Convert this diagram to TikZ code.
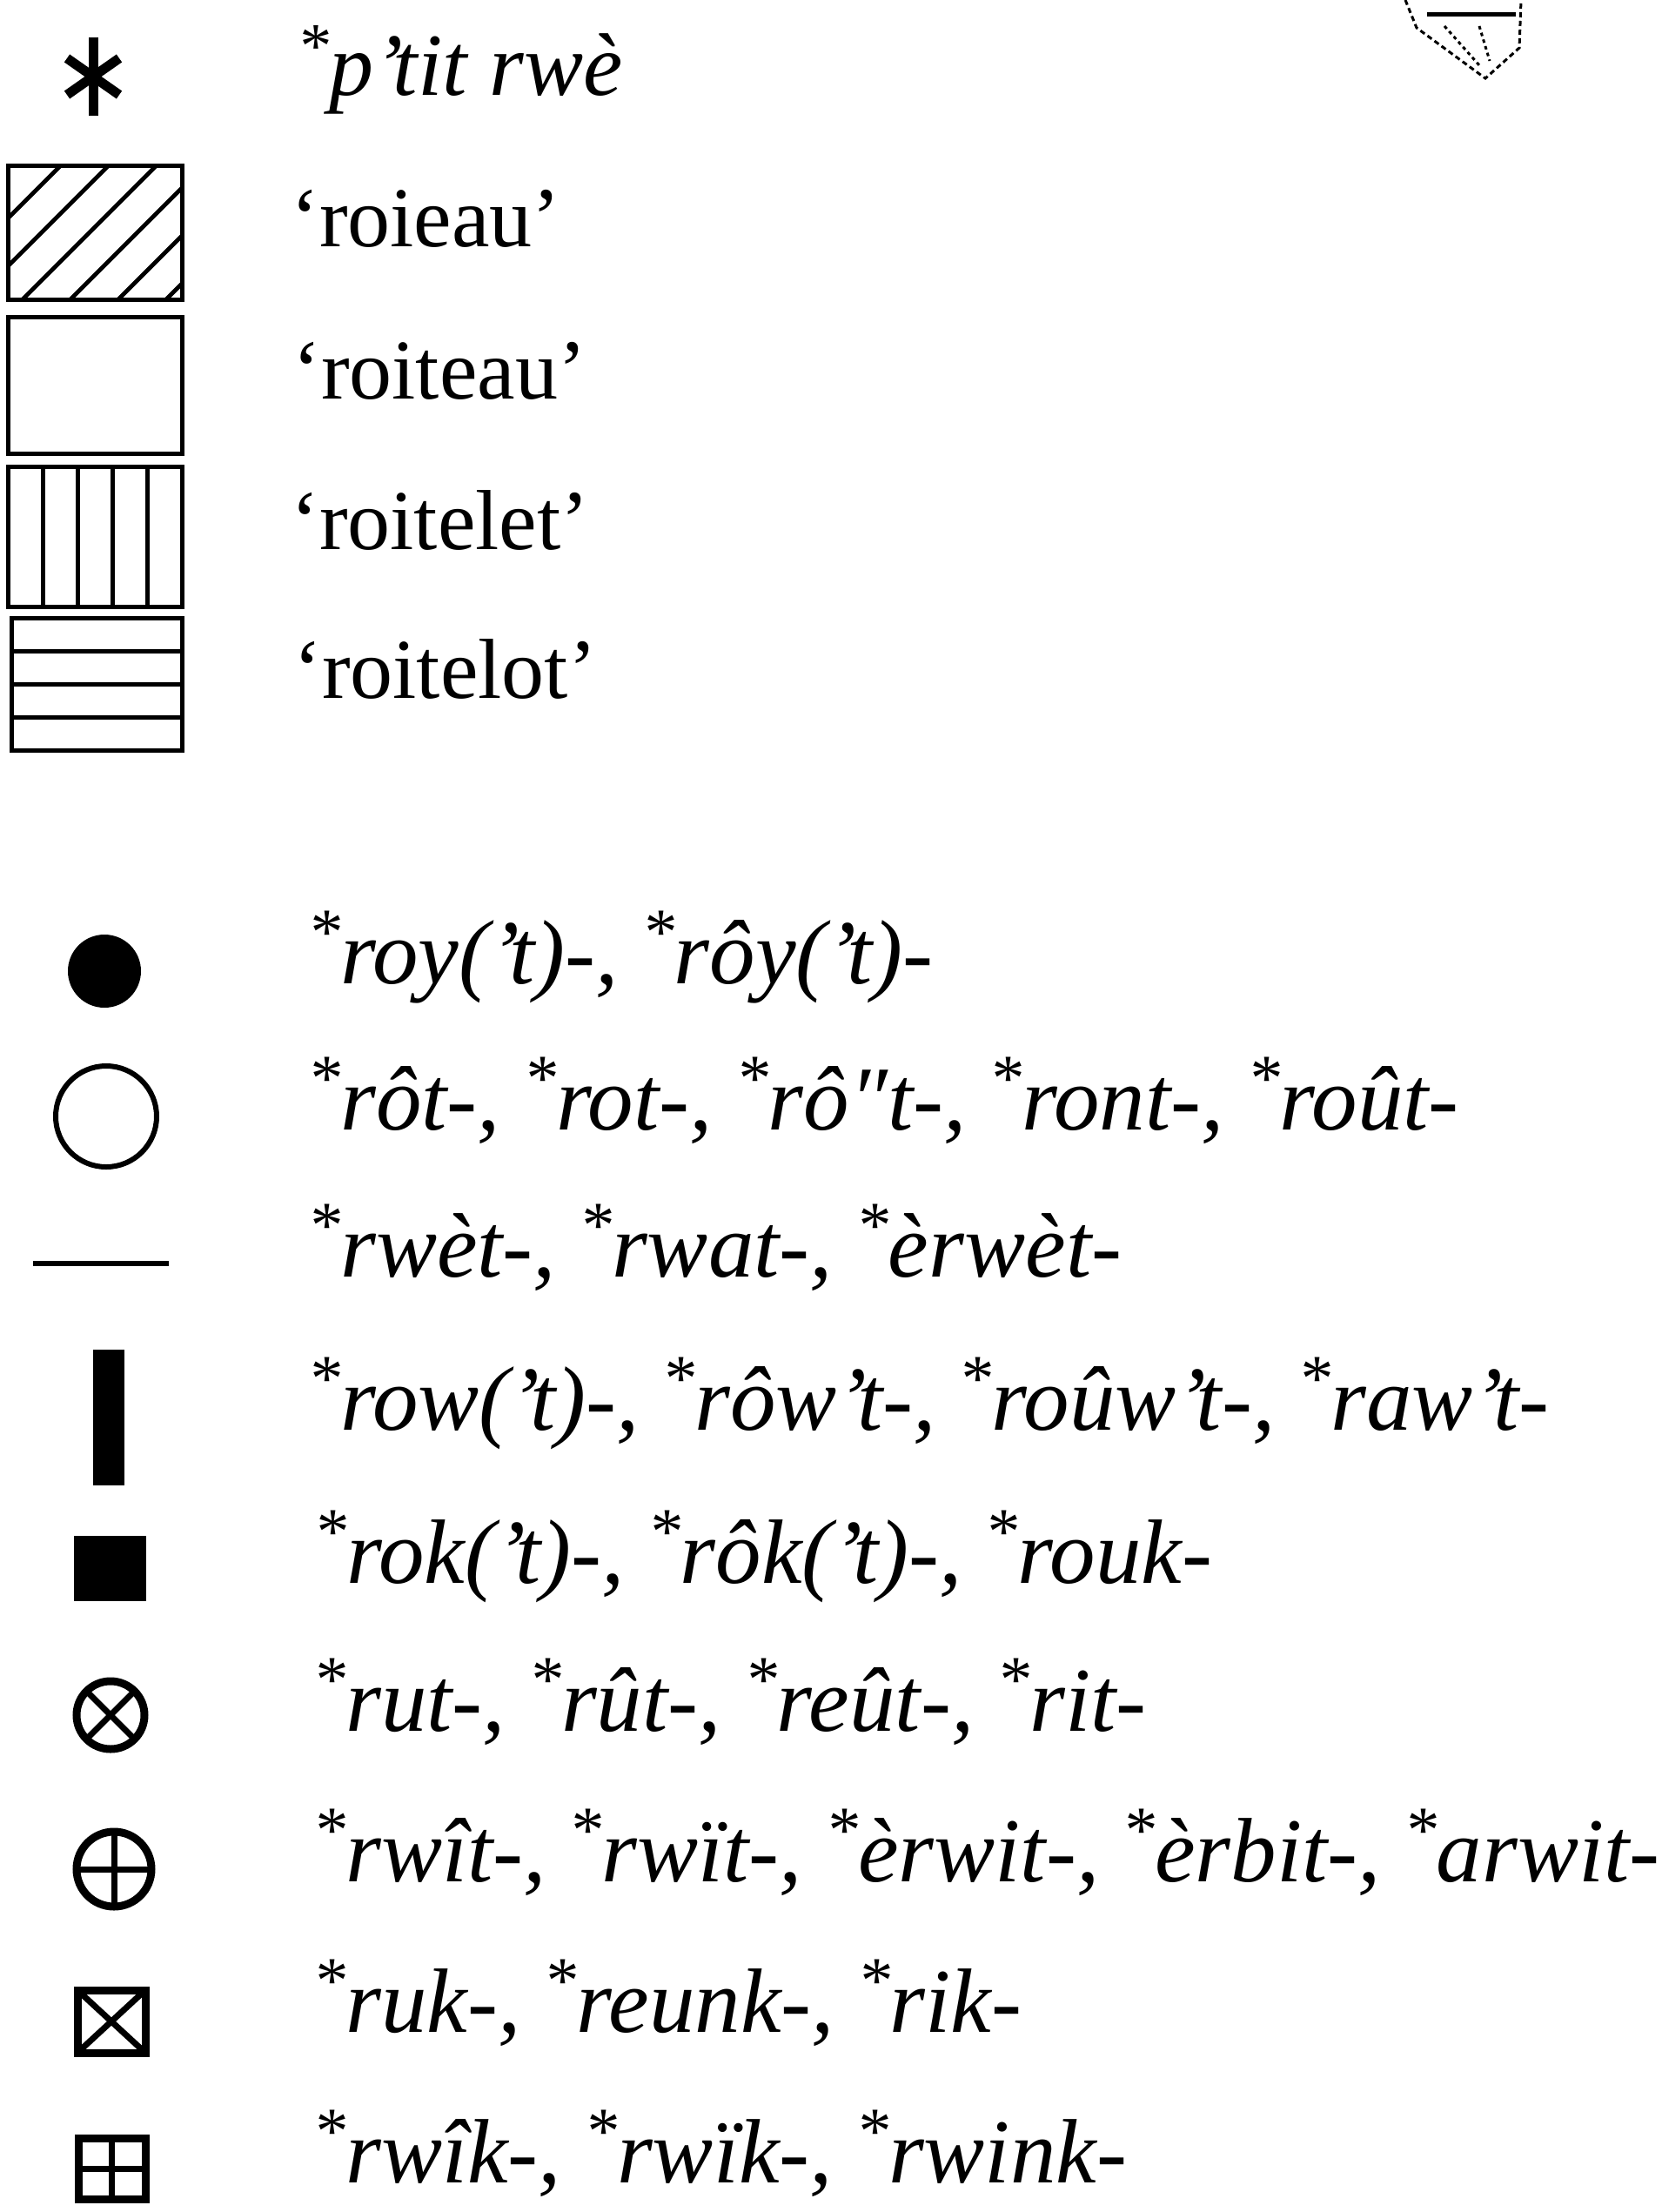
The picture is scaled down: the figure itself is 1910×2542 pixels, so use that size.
\documentclass[tikz,border=0pt]{standalone}
\usepackage{fontspec}
\setmainfont{Liberation Serif}
\newcommand\sk{\raisebox{.32em}{\scalebox{.72}{*}}}
\begin{document}
\begin{tikzpicture}[x=0.5pt,y=-0.5pt,
  lbl/.style={anchor=base west,inner sep=0pt,font=\fontsize{49}{56}\selectfont},
  ilbl/.style={anchor=base west,inner sep=0pt,font=\fontsize{52.5}{60}\selectfont\itshape},
  bx/.style={line width=2.5pt},
  sym/.style={line width=4.5pt}]
\useasboundingbox (0,0) rectangle (1910,2542);

% fragment of map at top right
\draw[line width=1.5pt,dash pattern=on 3pt off 2pt] (1615,0) -- (1628,32) -- (1707,90) -- (1746,55) -- (1748,0);
\draw[line width=2.5pt] (1640,17) -- (1742,17);
\draw[line width=1.5pt,dash pattern=on 2pt off 2pt] (1660,30) -- (1700,75) (1700,30) -- (1712,70);

% asterisk
\draw[line width=5.5pt] (107,43) -- (107,133);
\draw[line width=5.5pt] (77,67) -- (137,109);
\draw[line width=5.5pt] (77,109) -- (137,67);
\node[anchor=base west,inner sep=0pt,font=\fontsize{51}{58}\selectfont\itshape] (ptit) at (341,110) {\sk p’tit rwè};

% hatched box
\begin{scope}
\clip (9,191) rectangle (209,344);
\foreach \c in {260,315,370,425,480,535}
  \draw[line width=2.4pt] (\c-400,400) -- (\c,0);
\end{scope}
\draw[bx] (9,191) rectangle (209,344);
\node[lbl] (t1) at (334,284) {‘roieau’};

% empty box
\draw[bx] (9,364) rectangle (209,521);
\node[lbl] (t2) at (336,458) {‘roiteau’};

% vertical lines box
\draw[bx] (9,536) rectangle (209,697);
\foreach \x in {49,89,129,169}
  \draw[bx] (\x,536) -- (\x,697);
\node[lbl] (t3) at (334,631) {‘roitelet’};

% horizontal lines box
\draw[bx] (13,710) rectangle (209,862);
\foreach \y in {748,786,824}
  \draw[bx] (13,\y) -- (209,\y);
\node[lbl] (t4) at (337,802) {‘roitelot’};

% symbols
\fill (120,1116) circle[radius=21pt];
\node[ilbl] (r1) at (353,1130) {\sk roy(’t)-, \sk rôy(’t)-};

\draw[line width=3pt] (122,1283) circle[radius=29pt];
\node[ilbl] (r2) at (353,1298) {\sk rôt-, \sk rot-, \sk rô″t-, \sk ront-, \sk roût-};

\draw[line width=3pt] (38,1452) -- (194,1452);
\node[ilbl] (r3) at (353,1467) {\sk rwèt-, \sk rwat-, \sk èrwèt-};

\fill (107,1551) rectangle (143,1707);
\node[ilbl] (r4) at (353,1643) {\sk row(’t)-, \sk rôw’t-, \sk roûw’t-, \sk raw’t-};

\fill (85,1765) rectangle (168,1840);
\node[ilbl] (r5) at (360,1819) {\sk rok(’t)-, \sk rôk(’t)-, \sk rouk-};

\draw[sym] (127,1971) circle[radius=19.5pt];
\draw[line width=3.5pt] (99,1943) -- (155,1999) (99,1999) -- (155,1943);
\node[ilbl] (r6) at (359,1989) {\sk rut-, \sk rût-, \sk reût-, \sk rit-};

\draw[sym] (131,2148) circle[radius=21.5pt];
\draw[line width=3.5pt] (88,2148) -- (174,2148) (131,2105) -- (131,2191);
\node[ilbl] (r7) at (359,2162) {\sk rwît-, \sk rwït-, \sk èrwit-, \sk èrbit-, \sk arwit-};

\draw[sym] (89,2287) rectangle (167,2359);
\draw[line width=3.5pt] (89,2287) -- (167,2359) (89,2359) -- (167,2287);
\node[ilbl] (r8) at (359,2335) {\sk ruk-, \sk reunk-, \sk rik-};

\draw[sym] (90,2457) rectangle (167,2527);
\draw[line width=3.5pt] (90,2492) -- (167,2492) (128.5,2457) -- (128.5,2527);
\node[ilbl] (r9) at (359,2508) {\sk rwîk-, \sk rwïk-, \sk rwink-};
\end{tikzpicture}
\end{document}
